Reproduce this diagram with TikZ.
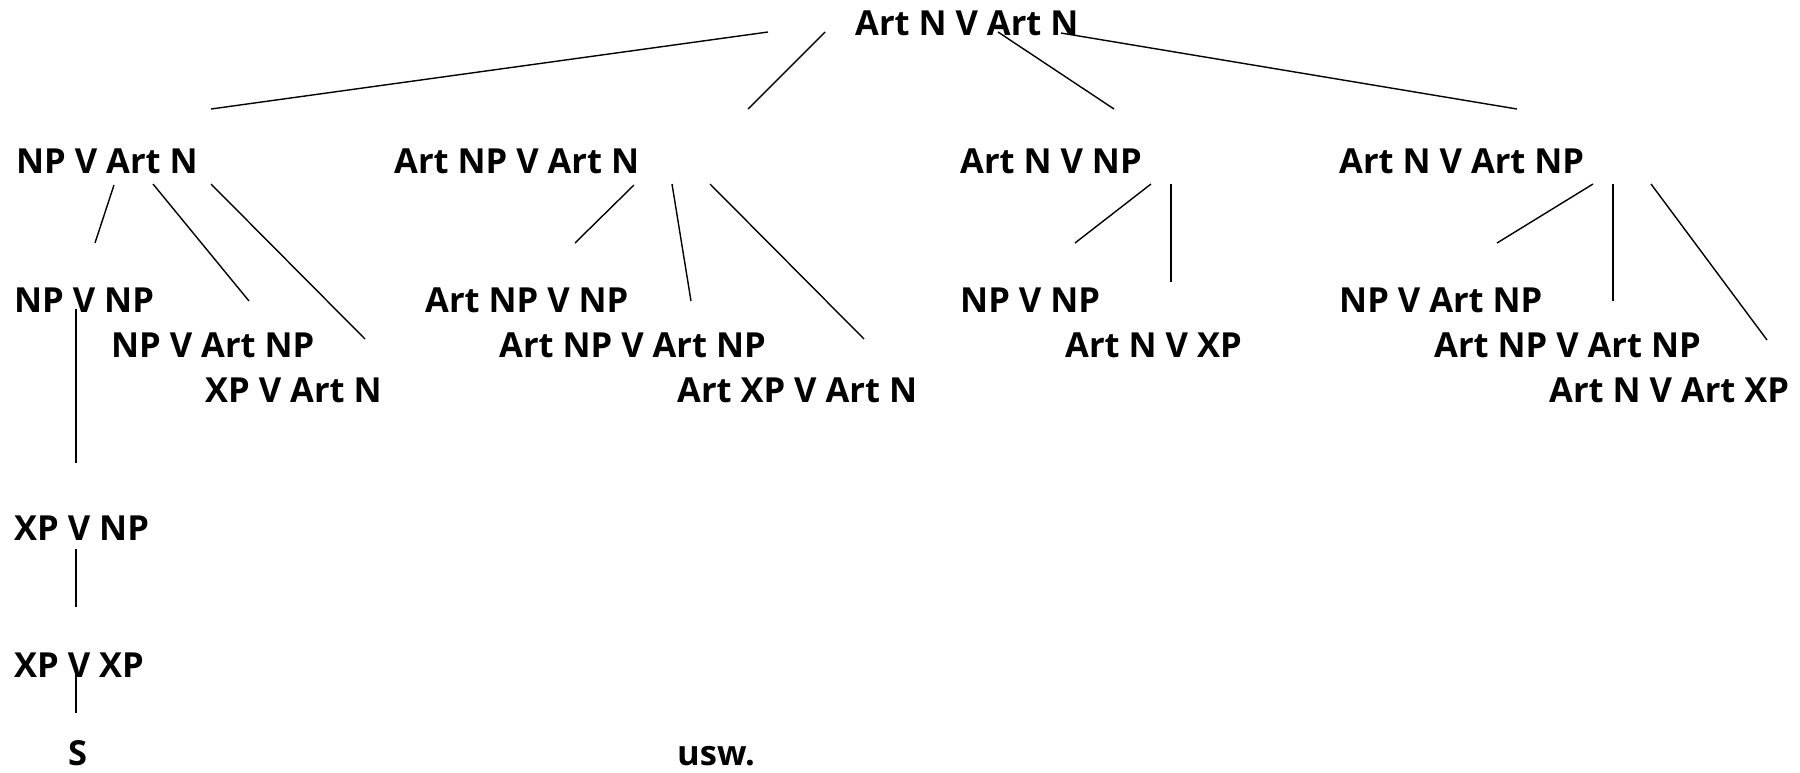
\documentclass[tikz,border=0pt]{standalone}
\usepackage{fontspec}
\setmainfont{Open Sans}
\begin{document}
\begin{tikzpicture}[x=1pt,y=-1pt,
  lbl/.style={anchor=base west,inner sep=0pt,font=\fontsize{34.5}{40}\selectfont\bfseries},
  edge/.style={line width=1.4pt}]
\useasboundingbox (0,0) rectangle (1800,772);
% nodes
\node[lbl] (top) at (855,35) {Art N V Art N};
\node[lbl] (a) at (16,173) {NP V Art N};
\node[lbl] (b) at (394,173) {Art NP V Art N};
\node[lbl] (c) at (960,173) {Art N V NP};
\node[lbl] (d) at (1339,173) {Art N V Art NP};
\node[lbl] (a1) at (14,312) {NP V NP};
\node[lbl] (a2) at (111,357) {NP V Art NP};
\node[lbl] (a3) at (205,402) {XP V Art N};
\node[lbl] (b1) at (425,312) {Art NP V NP};
\node[lbl] (b2) at (499,357) {Art NP V Art NP};
\node[lbl] (b3) at (677,402) {Art XP V Art N};
\node[lbl] (c1) at (960,312) {NP V NP};
\node[lbl] (c2) at (1065,357) {Art N V XP};
\node[lbl] (d1) at (1339,312) {NP V Art NP};
\node[lbl] (d2) at (1434,357) {Art NP V Art NP};
\node[lbl] (d3) at (1549,402) {Art N V Art XP};
\node[lbl] (e1) at (14,540) {XP V NP};
\node[lbl] (e2) at (14,677) {XP V XP};
\node[lbl] (e3) at (68,765) {S};
\node[lbl] (usw) at (677,765) {usw.};
% connector end points
\coordinate (t1) at (768,32);  \coordinate (h1) at (211,109);
\coordinate (t2) at (825,32);  \coordinate (h2) at (748,109);
\coordinate (t3) at (998,32);  \coordinate (h3) at (1114,109);
\coordinate (t4) at (1061,33); \coordinate (h4) at (1517,109);
\coordinate (a1t) at (114,185); \coordinate (a1h) at (95,243);
\coordinate (a2t) at (153,184); \coordinate (a2h) at (249,301);
\coordinate (a3t) at (211,184); \coordinate (a3h) at (365,339);
\coordinate (b1t) at (634,185); \coordinate (b1h) at (575,243);
\coordinate (b2t) at (672,184); \coordinate (b2h) at (691,301);
\coordinate (b3t) at (710,184); \coordinate (b3h) at (864,339);
\coordinate (c1t) at (1151,184); \coordinate (c1h) at (1075,243);
\coordinate (c2t) at (1171,184); \coordinate (c2h) at (1171,282);
\coordinate (d1t) at (1593,184); \coordinate (d1h) at (1497,243);
\coordinate (d2t) at (1613,184); \coordinate (d2h) at (1613,301);
\coordinate (d3t) at (1651,184); \coordinate (d3h) at (1767,340);
\coordinate (v1t) at (76,309); \coordinate (v1h) at (76,463);
\coordinate (v2t) at (76,549); \coordinate (v2h) at (76,607);
\coordinate (v3t) at (76,673); \coordinate (v3h) at (76,713);
% connectors
\foreach \p in {1,2,3,4}{\draw[edge] (t\p) -- (h\p);}
\foreach \q in {a,b,d}{\foreach \p in {1,2,3}{\draw[edge] (\q\p t) -- (\q\p h);}}
\foreach \p in {1,2}{\draw[edge] (c\p t) -- (c\p h);}
\foreach \p in {1,2,3}{\draw[edge] (v\p t) -- (v\p h);}
\end{tikzpicture}
\end{document}
